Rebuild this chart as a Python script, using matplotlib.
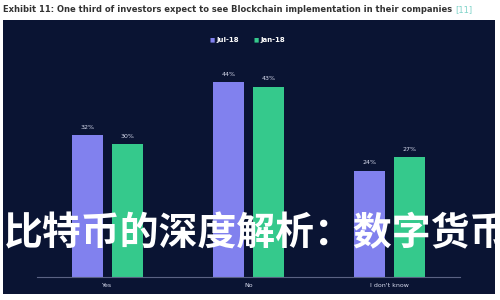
import matplotlib
matplotlib.use("Agg")
import matplotlib.pyplot as plt
import numpy as np

categories = ["Yes", "No", "I don't know"]
jul18 = [32, 44, 24]
jan18 = [30, 43, 27]
series_names = ["Jul-18", "Jan-18"]
title = "Exhibit 11: One third of investors expect to see Blockchain implementation in their companies"
ref = "[11]"
overlay = "比特币的深度解析：数字货币"

W, H = 500, 300
fig = plt.figure(figsize=(5, 3), dpi=100)
fig.patch.set_facecolor("white")

navy = "#0a1433"
purple = "#8181ee"
green = "#35c98c"

# dark panel
bg = fig.add_axes([3 / W, 1 - 294 / H, 492 / W, 274 / H])
bg.set_facecolor(navy)
bg.set_xticks([]); bg.set_yticks([])
for s in bg.spines.values():
    s.set_visible(False)
bg.set_zorder(0)

# bar axes
ax_l, ax_r = 37, 460
ax_top, ax_bot = 60, 277
ax = fig.add_axes([ax_l / W, 1 - ax_bot / H, (ax_r - ax_l) / W, (ax_bot - ax_top) / H])
ax.set_zorder(1)
ax.set_facecolor("none")
x = np.arange(len(categories))
bw = 0.22
off = 0.142
ax.bar(x - off, jul18, bw, color=purple, zorder=2)
ax.bar(x + off, jan18, bw, color=green, zorder=2)
ax.set_xlim(-0.5, 2.5)
ax.set_ylim(0, (ax_bot - ax_top) / 4.43)
for xi, v in zip(x - off, jul18):
    ax.text(xi, v + 1.2, f"{v}%", ha="center", va="bottom", color="#d8dcef", fontsize=4.5)
for xi, v in zip(x + off, jan18):
    ax.text(xi, v + 1.2, f"{v}%", ha="center", va="bottom", color="#d8dcef", fontsize=4.5)
for s in ["top", "right", "left"]:
    ax.spines[s].set_visible(False)
ax.spines["bottom"].set_color("#5a6283")
ax.spines["bottom"].set_linewidth(0.8)
ax.set_yticks([])
ax.set_xticks(x)
ax.set_xticklabels(categories, color="#d8dcef", fontsize=4.5)
ax.tick_params(axis="x", length=0, pad=4)

# legend
ly = 1 - 40 / H
fig.text(210 / W, ly, "■", color=purple, fontsize=4, ha="left", va="center", zorder=5)
fig.text(216 / W, ly, series_names[0], color="white", fontsize=5, ha="left", va="center", fontweight="bold", zorder=5)
fig.text(254 / W, ly, "■", color=green, fontsize=4, ha="left", va="center", zorder=5)
fig.text(260 / W, ly, series_names[1], color="white", fontsize=5, ha="left", va="center", fontweight="bold", zorder=5)

# title
t = fig.text(3 / W, 1 - 10 / H, title, fontsize=6.05, fontweight="bold", color="#333333",
             ha="left", va="center")
fig.canvas.draw()
bb = t.get_window_extent()
fig.text(bb.x1 / W + 3 / W, 1 - 10 / H, ref, fontsize=6.05, color="#7fd3c8", ha="left", va="center")

# overlay text
fig.text(4 / W, 1 - 234 / H, overlay, fontsize=28, color="white", fontweight="bold",
         family=["Noto Sans CJK SC", "DejaVu Sans"], ha="left", va="center", zorder=10)

fig.savefig("out.png", dpi=100, facecolor="white")
